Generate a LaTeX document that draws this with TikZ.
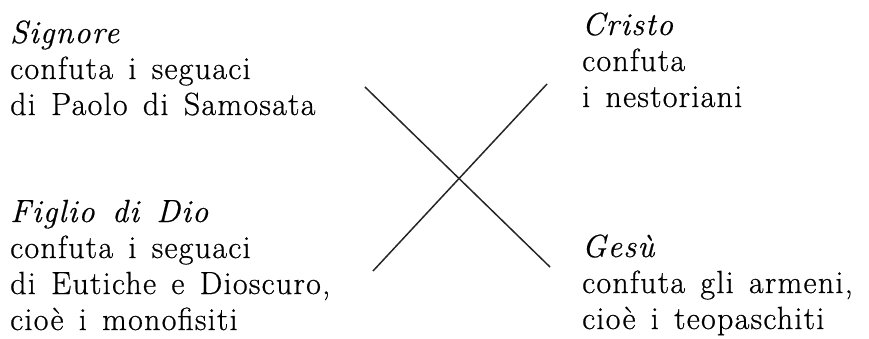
\documentclass[tikz,border=0pt]{standalone}
\usepackage{fontspec}
\setmainfont{Latin Modern Roman}[LetterSpace=4,WordSpace=1.4,FakeBold=0.6]
\tikzset{
  txt/.style={anchor=base west, align=left, inner sep=0pt,
    font=\fontsize{32}{36}\selectfont},
  cross/.style={line width=1.5pt, black!85}
}
\begin{document}
\begin{tikzpicture}[x=1pt,y=-1pt]
\useasboundingbox (0,0) rectangle (869,339);
\node[txt] (sig) at (10,115) {\textit{Signore}\\confuta i seguaci\\di Paolo di Samosata};
\node[txt] (fig) at (10,330) {\textit{Figlio di Dio}\\confuta i seguaci\\di Eutiche e Dioscuro,\\cioè i monofisiti};
\node[txt] (cri) at (582,107) {\textit{Cristo}\\confuta\\i nestoriani};
\node[txt] (ges) at (582,329) {\textit{Gesù}\\confuta gli armeni,\\cioè i teopaschiti};
\coordinate (a1) at (365,87);
\coordinate (a2) at (550,267);
\coordinate (b1) at (373,271);
\coordinate (b2) at (547,84);
\draw[cross] (a1) -- (a2);
\draw[cross] (b1) -- (b2);
\end{tikzpicture}
\end{document}
